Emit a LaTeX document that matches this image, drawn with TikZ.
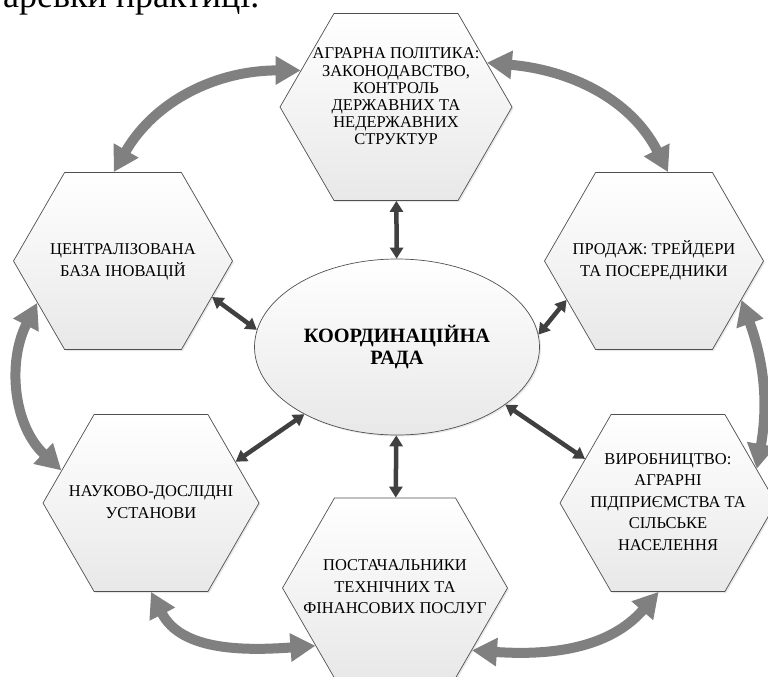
\documentclass[tikz,border=0pt]{standalone}
\usepackage{fontspec}
\setmainfont{Liberation Serif}
\usetikzlibrary{arrows.meta,shapes.geometric,shapes.symbols,shadows}
\definecolor{ringgray}{HTML}{808080}
\definecolor{linkgray}{HTML}{404040}
\definecolor{edgegray}{HTML}{505050}
\newcommand{\hexlines}[1]{\makebox[80pt]{\begin{tabular}{@{}c@{}}#1\end{tabular}}}

\begin{document}
\begin{tikzpicture}[x=1pt,y=1pt,
  hexbox/.style={signal, signal to=east and west, signal pointer angle=120,
    draw=edgegray, line width=0.7pt, top color=white, bottom color=black!9,
    drop shadow={opacity=0.18,shadow xshift=1.5pt,shadow yshift=-1.5pt},
    minimum width=219pt, minimum height=177pt, inner sep=0pt,
    font=\fontsize{16.5}{21.5}\selectfont},
  hub/.style={ellipse, draw=edgegray, line width=0.7pt, top color=white, bottom color=black!9,
    drop shadow={opacity=0.18,shadow xshift=1.5pt,shadow yshift=-1.5pt},
    minimum width=285pt, minimum height=176pt, inner sep=0pt,
    align=center, font=\bfseries\fontsize{20.3}{22}\selectfont},
  ring/.style={draw=ringgray, line width=10pt,
    {Triangle[length=25pt,width=27pt]}-{Triangle[length=25pt,width=27pt]}},
  link/.style={draw=linkgray, line width=4.5pt,
    {Triangle[length=11pt,width=13pt]}-{Triangle[length=11pt,width=13pt]}}]
\useasboundingbox (0,0) rectangle (768,-677);

\node (head) at (3,-8) [anchor=base west, inner sep=0pt, font=\fontsize{36}{40}\selectfont] {аревки практиці.};

\node (council) at (397,-347) [hub] {КООРДИНАЦІЙНА\\РАДА};

\node (polit) at (396,-107) [hexbox, minimum width=232pt, minimum height=187pt,
  font=\fontsize{16.5}{17.2}\selectfont] {\hexlines{АГРАРНА ПОЛІТИКА:\\ЗАКОНОДАВСТВО,\\КОНТРОЛЬ\\ДЕРЖАВНИХ ТА\\НЕДЕРЖАВНИХ\\СТРУКТУР\\\mbox{}}};
\node (innov) at (123,-261) [hexbox] {\hexlines{ЦЕНТРАЛІЗОВАНА\\БАЗА ІНОВАЦІЙ}};
\node (trade) at (654,-261) [hexbox] {\hexlines{ПРОДАЖ: ТРЕЙДЕРИ\\ТА ПОСЕРЕДНИКИ}};
\node (sci) at (151,-503) [hexbox, minimum width=216pt] {\hexlines{НАУКОВО-ДОСЛІДНІ\\УСТАНОВИ}};
\node (supply) at (395,-588) [hexbox, minimum width=225pt, minimum height=180pt] {\hexlines{ПОСТАЧАЛЬНИКИ\\ТЕХНІЧНИХ ТА\\ФІНАНСОВИХ ПОСЛУГ}};
\node (prod) at (668,-503) [hexbox, minimum width=216pt] {\hexlines{ВИРОБНИЦТВО:\\АГРАРНІ\\ПІДПРИЄМСТВА ТА\\СІЛЬСЬКЕ\\НАСЕЛЕННЯ}};

\draw [ring] (polit.159) to[out=180,in=60] (innov.96);
\draw [ring] (polit.26) to[out=-5,in=117] (trade.81);
\draw [ring] (trade.336) to[out=-70,in=80] (prod.21);
\draw [ring] (innov.206) to[out=243,in=137] (sci.160);
\draw [ring] (sci.270) to[out=-63,in=184] (supply.216);
\draw [ring] (prod.264) to[out=229,in=-4] (supply.321);

\draw [link] (polit) -- (council);
\draw [link] (innov.-22) -- (council.173);
\draw [link] (trade.204) -- (council.5);
\draw [link] (sci.26) -- (council.216);
\draw [link] (council) -- (supply);
\draw [link] (prod.152) -- (council.-28);

\end{tikzpicture}
\end{document}
